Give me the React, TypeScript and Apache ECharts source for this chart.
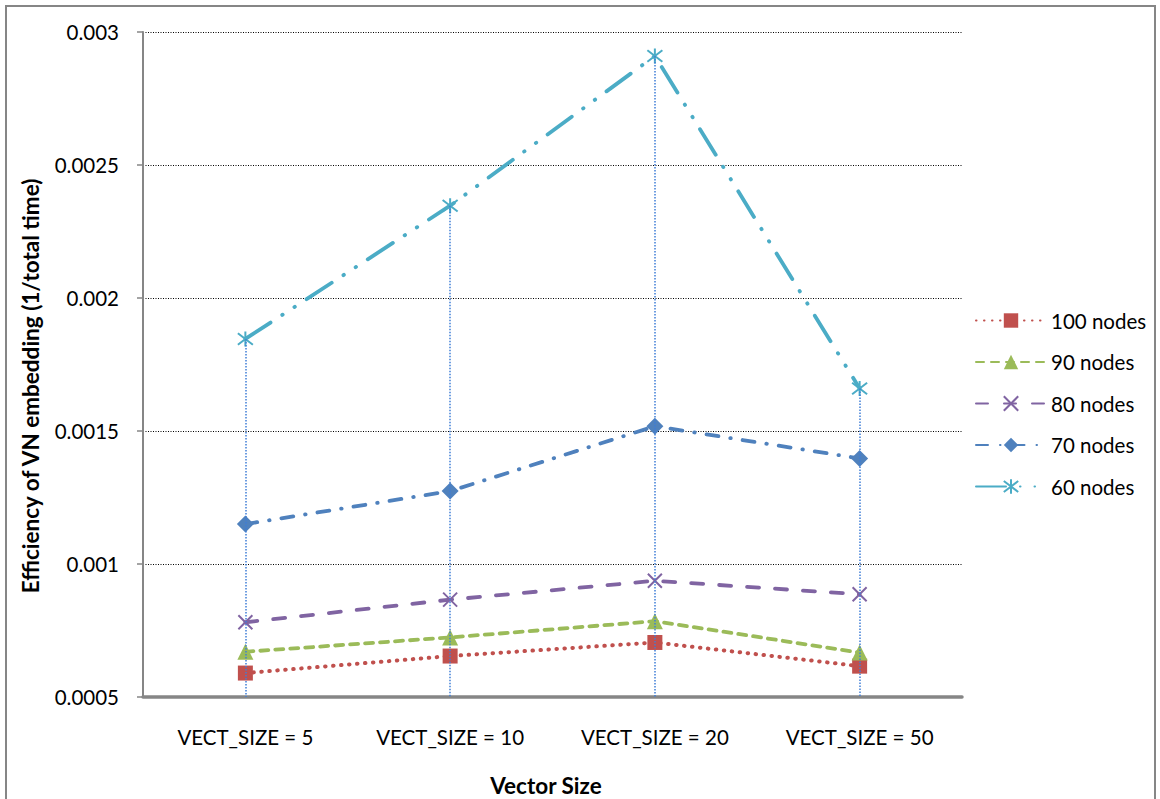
import React, { useEffect, useRef } from "react";
import * as echarts from "echarts";

// Vector size categories along the x axis
const categories = ["VECT_SIZE = 5", "VECT_SIZE = 10", "VECT_SIZE = 20", "VECT_SIZE = 50"];

// Efficiency (1 / total time) for each network size
const nodes100 = [0.00059, 0.000654, 0.000705, 0.000616];
const nodes90 = [0.00067, 0.000724, 0.000785, 0.000667];
const nodes80 = [0.000781, 0.000866, 0.000937, 0.000886];
const nodes70 = [0.00115, 0.001274, 0.001518, 0.001397];
const nodes60 = [0.001846, 0.002347, 0.00291, 0.00166];

const yMin = 0.0005;
const yMax = 0.003;
const yStep = 0.0005;

const FONT = "Lato, 'Noto Sans', sans-serif";

const X_MARK = "path://M0,0L10,10M10,0L0,10";
const STAR_MARK = "path://M0,0L10,10M10,0L0,10M5,-1.5L5,11.5";

export default function App() {
  const ref = useRef<HTMLDivElement>(null);

  useEffect(() => {
    if (!ref.current) return;
    const chart = echarts.init(ref.current, null, { renderer: "svg" });

    const all = [nodes100, nodes90, nodes80, nodes70, nodes60];
    // drop lines from the highest point of each category to the axis
    const dropLines = categories.map((_, i) => {
      const top = Math.max(...all.map((s) => s[i]));
      return [{ coord: [i, top] }, { coord: [i, yMin] }];
    });

    const mk = (
      name: string,
      data: number[],
      color: string,
      dash: number[],
      symbol: string,
      size: number,
      width: number,
      stroked: boolean
    ) => ({
      name,
      type: "line",
      data,
      symbol,
      symbolSize: size,
      showSymbol: true,
      lineStyle: { color, width, type: dash, cap: "round", join: "round" },
      itemStyle: stroked
        ? { color, borderColor: color, borderWidth: 2 }
        : { color, borderColor: color, borderWidth: 0 },
      emphasis: { disabled: true },
    });

    const series: any[] = [
      mk("100 nodes", nodes100, "#C0504D", [0.5, 7.5], "rect", 15, 4, false),
      mk("90 nodes", nodes90, "#9BBB59", [8, 7], "triangle", 16, 3.8, false),
      mk("80 nodes", nodes80, "#8064A2", [12, 16], X_MARK, 14, 3.8, true),
      mk("70 nodes", nodes70, "#4F81BD", [12, 12, 0.5, 12], "diamond", 17, 3.8, false),
      mk("60 nodes", nodes60, "#4BACC6", [30, 14, 0.5, 14, 0.5, 14], STAR_MARK, 15, 3.8, true),
    ];
    series[4].markLine = {
      silent: true,
      symbol: ["none", "none"],
      label: { show: false },
      lineStyle: { color: "#3f7ed6", width: 1.5, type: [1.5, 1.5] },
      emphasis: { disabled: true },
      data: dropLines,
    };

    chart.setOption({
      animation: false,
      backgroundColor: "#ffffff",
      textStyle: { fontFamily: FONT },
      grid: { left: 143, right: 198, top: 32, bottom: 102, containLabel: false },
      legend: {
        orient: "vertical",
        left: 970,
        top: 305,
        itemWidth: 70,
        itemHeight: 18,
        itemGap: 20.5,
        textStyle: { fontSize: 20.5, color: "#000", fontFamily: FONT },
        data: ["100 nodes", "90 nodes", "80 nodes", "70 nodes", "60 nodes"],
      },
      xAxis: {
        type: "category",
        data: categories,
        boundaryGap: true,
        axisLine: { show: true, lineStyle: { color: "#868686", width: 3.5 } },
        axisTick: { show: false },
        axisLabel: { margin: 29, fontSize: 20.5, color: "#000", fontFamily: FONT },
      },
      yAxis: {
        type: "value",
        min: yMin,
        max: yMax,
        interval: yStep,
        axisLine: { show: true, lineStyle: { color: "#868686", width: 2 } },
        axisTick: { show: true, length: 6, lineStyle: { color: "#868686", width: 1.5 } },
        splitLine: { show: true, lineStyle: { color: "#000", width: 1, type: [1, 1.5] } },
        axisLabel: {
          margin: 24,
          fontSize: 20.5,
          color: "#000",
          fontFamily: FONT,
          formatter: (v: number) => String(parseFloat(v.toPrecision(6))),
        },
      },
      graphic: [
        {
          type: "rect",
          silent: true,
          shape: { x: 6, y: 6, width: 1149, height: 820 },
          style: { fill: "none", stroke: "#868686", lineWidth: 2 },
        },
        {
          type: "text",
          silent: true,
          x: 30,
          y: 386,
          rotation: Math.PI / 2,
          style: {
            text: "Efficiency of VN embedding (1/total time)",
            fontSize: 22.5,
            fontWeight: "bold",
            fontFamily: FONT,
            fill: "#000",
            align: "center",
            verticalAlign: "middle",
          },
        },
        {
          type: "text",
          silent: true,
          x: 546,
          y: 785,
          style: {
            text: "Vector Size",
            fontSize: 22.5,
            fontWeight: "bold",
            fontFamily: FONT,
            fill: "#000",
            align: "center",
            verticalAlign: "middle",
          },
        },
      ],
      series,
    });

    return () => chart.dispose();
  }, []);

  return (
    <div
      ref={ref}
      style={{ position: "absolute", left: 0, top: 0, width: 1160, height: 799 }}
    />
  );
}
